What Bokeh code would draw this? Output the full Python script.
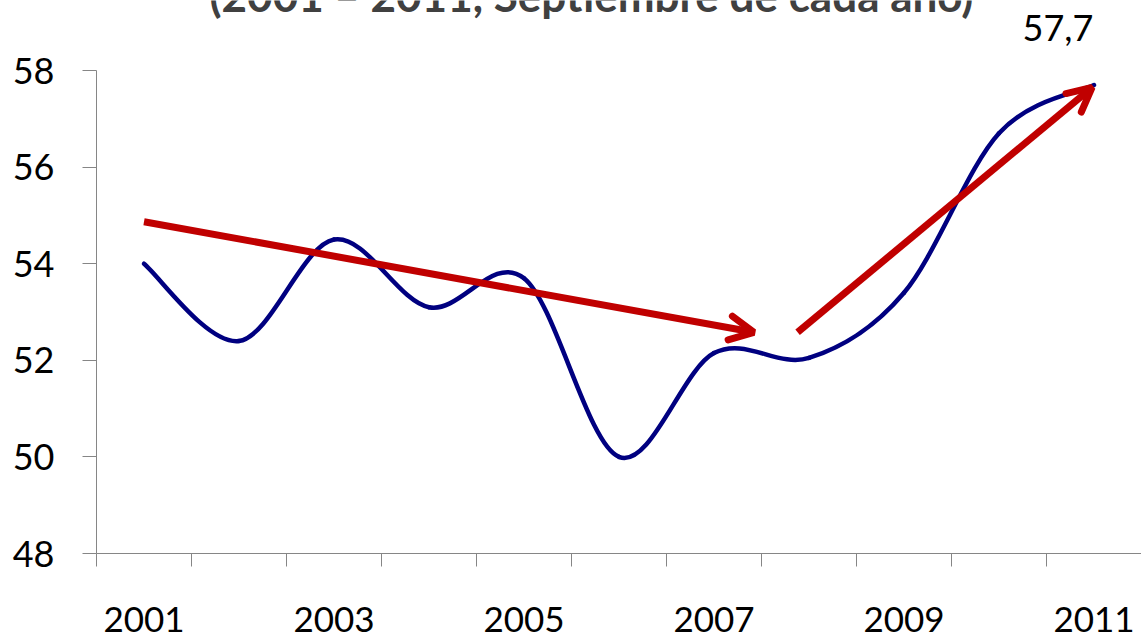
from bokeh.plotting import figure
from bokeh.models import (Range1d, FixedTicker, Arrow, OpenHead, Label)
from bokeh.embed import file_html
from bokeh.resources import INLINE

# ---------------- data ----------------
years = [2001, 2002, 2003, 2004, 2005, 2006, 2007, 2008, 2009, 2010, 2011]
values = [54.0, 52.4, 54.5, 53.1, 53.7, 50.0, 52.15, 52.05, 53.4, 56.7, 57.7]
label_years = years[::2]
y_ticks = [48, 50, 52, 54, 56, 58]
title_text = "(2001 \u2013 2011, Septiembre de cada a\u00f1o)"
# trend arrows (start x, start y, end x, end y)
trend_down = [2001.0, 54.87, 2007.42, 52.58]
trend_up = [2007.88, 52.58, 2010.98, 57.65]

FONT = "Lato"
BLUE = "#000080"
RED = "#C00000"
GRAY = "#868686"

# frame reaches the top of the canvas so the title and the data label (drawn above 58)
# are inside it; the y axis line is bounded to 48..58
p = figure(width=1141, height=638, output_backend="svg", toolbar_location=None,
           x_range=Range1d(years[0] - 0.5, years[-1] + 0.5),
           y_range=Range1d(y_ticks[0], 59.45),
           min_border_left=96, min_border_right=0,
           min_border_top=0, min_border_bottom=85)
p.outline_line_color = None
p.xgrid.visible = False
p.ygrid.visible = False
p.background_fill_color = "white"
p.border_fill_color = "white"

# y axis
ya = p.yaxis[0]
ya.ticker = FixedTicker(ticks=y_ticks)
ya.bounds = (y_ticks[0], y_ticks[-1])
ya.axis_line_color = GRAY
ya.major_tick_line_color = GRAY
ya.major_tick_out = 14
ya.major_tick_in = 0
ya.minor_tick_line_color = None
ya.major_label_standoff = 28
ya.major_label_text_font = FONT
ya.major_label_text_font_size = "36px"
ya.major_label_text_color = "black"

# x axis: labels at every other year, tick marks (minor ticks) at category boundaries
xa = p.xaxis[0]
boundaries = [y - 0.5 for y in years] + [years[-1] + 0.5]
xa.ticker = FixedTicker(ticks=label_years, minor_ticks=boundaries)
xa.axis_line_color = GRAY
xa.major_tick_line_color = None
xa.major_tick_out = 0
xa.major_tick_in = 0
xa.minor_tick_line_color = GRAY
xa.minor_tick_out = 13
xa.minor_tick_in = 0
xa.major_label_standoff = 40
xa.major_label_text_font = FONT
xa.major_label_text_font_size = "35px"
xa.major_label_text_color = "black"

# smoothed line (Catmull-Rom style Bezier segments, like a spreadsheet "smooth line")
n = len(years)
x0, y0, x1, y1, cx0, cy0, cx1, cy1 = [], [], [], [], [], [], [], []
for i in range(n - 1):
    a = max(i - 1, 0)
    d = min(i + 2, n - 1)
    x0.append(years[i]); y0.append(values[i])
    x1.append(years[i + 1]); y1.append(values[i + 1])
    cx0.append(years[i] + (years[i + 1] - years[a]) / 6.0)
    cy0.append(values[i] + (values[i + 1] - values[a]) / 6.0)
    cx1.append(years[i + 1] - (years[d] - years[i]) / 6.0)
    cy1.append(values[i + 1] - (values[d] - values[i]) / 6.0)
p.bezier(x0=x0, y0=y0, x1=x1, y1=y1, cx0=cx0, cy0=cy0, cx1=cx1, cy1=cy1,
         line_color=BLUE, line_width=4.5, line_cap="round")

# trend arrows
for tr in (trend_down, trend_up):
    p.add_layout(Arrow(end=OpenHead(size=24, line_color=RED, line_width=7,
                                    line_cap="round"),
                       x_start=tr[0], y_start=tr[1], x_end=tr[2], y_end=tr[3],
                       line_color=RED, line_width=7))

# data label for last point
p.add_layout(Label(x=years[-1], y=values[-1],
                   text=f"{values[-1]:.1f}".replace(".", ","),
                   x_offset=-36, y_offset=57, text_align="center",
                   text_baseline="alphabetic", text_font=FONT,
                   text_font_size="36px", text_color="black"))

# title (partly cut off at the top)
p.add_layout(Label(x=2005.71, y=y_ticks[-1], y_offset=76, text=title_text,
                   text_align="center", text_baseline="alphabetic",
                   text_font=FONT, text_font_style="bold",
                   text_font_size="44px", text_color="#404040"))

open("out.html", "w").write(file_html(p, INLINE))
